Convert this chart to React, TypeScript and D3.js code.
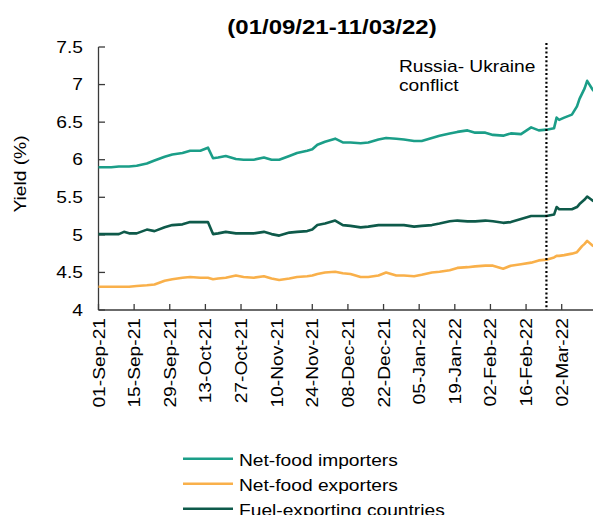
import React from "react";
import * as d3 from "d3";

// Observation dates (daily yields, sampled)
const dates = [
  "2021-09-01", "2021-09-06", "2021-09-09", "2021-09-11", "2021-09-13", "2021-09-16",
  "2021-09-20", "2021-09-23", "2021-09-27", "2021-09-30", "2021-10-04", "2021-10-07",
  "2021-10-11", "2021-10-14", "2021-10-16", "2021-10-18", "2021-10-21", "2021-10-25",
  "2021-10-28", "2021-11-01", "2021-11-05", "2021-11-08", "2021-11-11", "2021-11-15",
  "2021-11-18", "2021-11-22", "2021-11-24", "2021-11-26", "2021-11-29", "2021-12-03",
  "2021-12-06", "2021-12-09", "2021-12-13", "2021-12-16", "2021-12-20", "2021-12-23",
  "2021-12-27", "2021-12-30", "2022-01-03", "2022-01-06", "2022-01-10", "2022-01-13",
  "2022-01-17", "2022-01-20", "2022-01-24", "2022-01-27", "2022-01-31", "2022-02-03",
  "2022-02-07", "2022-02-10", "2022-02-14", "2022-02-18", "2022-02-21", "2022-02-24",
  "2022-02-27", "2022-02-28", "2022-03-01", "2022-03-03", "2022-03-06", "2022-03-08",
  "2022-03-09", "2022-03-10", "2022-03-11", "2022-03-12", "2022-03-14", "2022-03-15",
];

const netFoodImporters = [
  5.90, 5.90, 5.91, 5.91, 5.91, 5.92, 5.95, 5.99, 6.04, 6.07, 6.09, 6.12,
  6.12, 6.16, 6.02, 6.03, 6.05, 6.01, 6.00, 6.00, 6.03, 6.00, 6.00, 6.05,
  6.09, 6.12, 6.14, 6.20, 6.24, 6.28, 6.23, 6.23, 6.22, 6.23, 6.27, 6.29,
  6.28, 6.27, 6.25, 6.25, 6.29, 6.32, 6.35, 6.37, 6.39, 6.36, 6.36, 6.33,
  6.32, 6.35, 6.34, 6.43, 6.39, 6.40, 6.42, 6.56, 6.53, 6.56, 6.60, 6.71,
  6.81, 6.88, 6.95, 7.05, 6.94, 6.90,
];

const netFoodExporters = [
  4.31, 4.31, 4.31, 4.31, 4.31, 4.32, 4.33, 4.34, 4.39, 4.41, 4.43, 4.44,
  4.43, 4.43, 4.41, 4.42, 4.43, 4.46, 4.44, 4.43, 4.45, 4.42, 4.40, 4.42,
  4.44, 4.45, 4.46, 4.48, 4.50, 4.51, 4.49, 4.48, 4.44, 4.44, 4.46, 4.50,
  4.46, 4.46, 4.45, 4.47, 4.50, 4.51, 4.53, 4.56, 4.57, 4.58, 4.59, 4.59,
  4.55, 4.59, 4.61, 4.63, 4.66, 4.67, 4.70, 4.72, 4.72, 4.73, 4.75, 4.77,
  4.81, 4.85, 4.88, 4.92, 4.86, 4.84,
];

const fuelExporting = [
  5.01, 5.01, 5.01, 5.04, 5.02, 5.02, 5.07, 5.05, 5.10, 5.13, 5.14, 5.17,
  5.17, 5.17, 5.01, 5.02, 5.04, 5.02, 5.02, 5.02, 5.04, 5.01, 4.99, 5.03,
  5.04, 5.05, 5.07, 5.13, 5.15, 5.19, 5.13, 5.12, 5.10, 5.11, 5.13, 5.13,
  5.13, 5.13, 5.11, 5.12, 5.13, 5.15, 5.18, 5.19, 5.18, 5.18, 5.19, 5.18,
  5.16, 5.17, 5.21, 5.25, 5.25, 5.25, 5.27, 5.37, 5.34, 5.34, 5.34, 5.37,
  5.41, 5.44, 5.47, 5.51, 5.46, 5.44,
];

const seriesNames = ["Net-food importers", "Net-food exporters", "Fuel-exporting countries"];
const seriesColors = ["#1b9e88", "#f9b04a", "#0e5a4a"];

const xTickLabels = [
  "01-Sep-21", "15-Sep-21", "29-Sep-21", "13-Oct-21", "27-Oct-21", "10-Nov-21",
  "24-Nov-21", "08-Dec-21", "22-Dec-21", "05-Jan-22", "19-Jan-22", "02-Feb-22",
  "16-Feb-22", "02-Mar-22",
];
const yTicks = [4, 4.5, 5, 5.5, 6, 6.5, 7, 7.5];

const conflictDate = "2022-02-24";
const title = "(01/09/21-11/03/22)";
const yTitle = "Yield (%)";
const annotationLines = ["Russia- Ukraine", "conflict"];

const W = 593;
const H = 515;
const FONT = "'Liberation Sans', Arial, sans-serif";
const SX = 1.2; // horizontal glyph stretch used for all labels

export default function App() {
  const parseIso = d3.utcParse("%Y-%m-%d");
  const parseTick = d3.utcParse("%d-%b-%y");
  const dateObjs = dates.map((d) => parseIso(d) as Date);

  const x = d3
    .scaleUtc()
    .domain([parseTick("01-Sep-21") as Date, parseTick("02-Mar-22") as Date])
    .range([98.5, 561.7]);
  const y = d3.scaleLinear().domain([4, 7.5]).range([310, 47]);

  const allSeries = [netFoodImporters, netFoodExporters, fuelExporting];
  const line = d3
    .line<number>()
    .x((_, i) => x(dateObjs[i]))
    .y((v) => y(v))
    .curve(d3.curveLinear);

  const xConflict = x(parseIso(conflictDate) as Date);
  const axisColor = "#3a3a3a";

  return (
    <svg
      width={W}
      height={H}
      style={{ position: "absolute", left: 0, top: 0, background: "#fff" }}
      fontFamily={FONT}
    >
      <rect width={W} height={H} fill="#fff" />
      {/* title */}
      <text
        transform={`translate(332,34) scale(${SX},1)`}
        textAnchor="middle"
        fontSize={20}
        fontWeight="bold"
        fill="#000"
      >
        {title}
      </text>

      {/* y axis title */}
      <text
        transform={`translate(26,174) rotate(-90) scale(${SX},1)`}
        textAnchor="middle"
        fontSize={16}
        fill="#000"
      >
        {yTitle}
      </text>

      {/* y axis */}
      <line x1={98.5} x2={98.5} y1={y(7.5)} y2={y(4)} stroke={axisColor} strokeWidth={1.3} />
      {yTicks.map((t) => (
        <g key={t}>
          <line x1={98.5} x2={105} y1={y(t)} y2={y(t)} stroke={axisColor} strokeWidth={1.3} />
          <text
            transform={`translate(83,${y(t)}) scale(${SX},1)`}
            textAnchor="end"
            dy="0.36em"
            fontSize={16}
            fill="#000"
          >
            {String(t)}
          </text>
        </g>
      ))}

      {/* x axis */}
      <line x1={98.5} x2={W} y1={y(4)} y2={y(4)} stroke={axisColor} strokeWidth={1.3} />
      {xTickLabels.map((lab) => {
        const tx = x(parseTick(lab) as Date);
        return (
          <g key={lab}>
            <line x1={tx} x2={tx} y1={y(4)} y2={y(4) - 6} stroke={axisColor} strokeWidth={1.3} />
            <text
              transform={`translate(${tx + 6},318) rotate(-90) scale(${SX},1)`}
              textAnchor="end"
              fontSize={16}
              fill="#000"
            >
              {lab}
            </text>
          </g>
        );
      })}

      {/* series */}
      {allSeries.map((s, i) => (
        <path
          key={seriesNames[i]}
          d={line(s) || ""}
          fill="none"
          stroke={seriesColors[i]}
          strokeWidth={2.6}
          strokeLinejoin="round"
        />
      ))}

      {/* conflict marker */}
      <line
        x1={xConflict}
        x2={xConflict}
        y1={43}
        y2={y(4)}
        stroke="#000"
        strokeWidth={2.2}
        strokeDasharray="2 2.3"
      />
      {annotationLines.map((t, i) => (
        <text
          key={t}
          transform={`translate(399,${71.5 + i * 19}) scale(${SX},1)`}
          fontSize={16}
          fill="#000"
        >
          {t}
        </text>
      ))}

      {/* legend */}
      {seriesNames.map((n, i) => {
        const ly = 458.7 + i * 25;
        return (
          <g key={n}>
            <line x1={183} x2={233} y1={ly} y2={ly} stroke={seriesColors[i]} strokeWidth={2.6} />
            <text
              transform={`translate(239,${ly + 7}) scale(${SX},1)`}
              fontSize={16}
              fill="#000"
            >
              {n}
            </text>
          </g>
        );
      })}
    </svg>
  );
}
